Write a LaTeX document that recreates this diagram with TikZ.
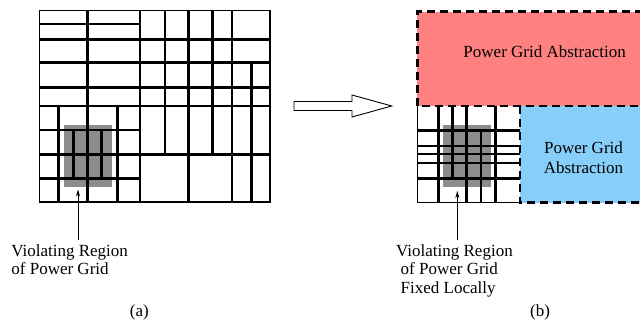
\documentclass[tikz,border=0pt]{standalone}
\usepackage{fontspec}
\setmainfont{Liberation Serif}
\usetikzlibrary{arrows.meta}
\definecolor{abstractred}{RGB}{255,128,128}
\definecolor{abstractblue}{RGB}{135,206,250}
\definecolor{hotspot}{RGB}{140,140,140}
\begin{document}
\begin{tikzpicture}[x=1pt,y=-1pt,
  wire/.style={line width=2.6pt},
  frame/.style={line width=1.1pt},
  abstr/.style={line width=2.8pt, dash pattern=on 8pt off 5pt},
  lbl/.style={font=\fontsize{17}{18.5}\selectfont, inner sep=0pt, align=left, anchor=north west},
  captext/.style={font=\fontsize{17}{18.5}\selectfont, inner sep=0pt, anchor=base},
  pointer/.style={line width=0.8pt, -{Stealth[length=7pt,width=4pt]}}]
\clip (0,0) rectangle (640,326);

% ---------- (a) original power grid ----------
\fill[hotspot] (64,125) rectangle (111.7,187.3);
% straps spanning the whole die
\foreach \y in {39.3,62.7,87.3,106,154.3}
  \draw[wire] (39.3,\y) -- (270,\y);
% straps on the left half only
\foreach \y in {24,130,178.3}
  \draw[wire] (39.3,\y) -- (140,\y);
% vertical straps: x / from / to
\foreach \x/\a/\b in {87.7/10.7/202, 140/10.7/202, 165/10.7/154.3,
                      188.3/10.7/202, 212.7/10.7/154.3, 232/10.7/202,
                      251.7/62.7/202, 58.3/106/202, 117.3/106/202,
                      73.3/130/178.3, 101.7/130/178.3}
  \draw[wire] (\x,\a) -- (\x,\b);
\draw[frame] (39.3,10.7) rectangle (270,202);

% ---------- transformation arrow ----------
\draw[line width=0.9pt] (294,101.5) -- (352,101.5) -- (352,95) -- (391.7,106)
  -- (352,117) -- (352,110.5) -- (294,110.5) -- cycle;

% ---------- (b) grid with abstracted regions ----------
\fill[abstractred] (417.3,11.7) rectangle (643,106);
\fill[abstractblue] (520,106) rectangle (643,202.7);
\fill[hotspot] (442.7,125) rectangle (491,187.3);
\foreach \y in {130.5,146.2,154.2,163,178.3}
  \draw[wire] (417.3,\y) -- (520,\y);
\foreach \x/\a/\b in {438.3/106/202.7, 452.7/106/178.3, 466.7/106/202.7,
                      481/130.5/202.7, 495.7/106/202.7}
  \draw[wire] (\x,\a) -- (\x,\b);
\draw[frame] (417.3,106) -- (417.3,202.7) -- (520,202.7);
\draw[abstr] (643,11.7) -- (417.3,11.7) -- (417.3,106) -- (643,106);
\draw[abstr] (520,106) -- (520,202.7) -- (643,202.7);

\node[captext] (redtxt) at (544.7,57.3) {Power Grid Abstraction};
\node[font=\fontsize{17}{20}\selectfont, inner sep=0pt, align=center, anchor=north]
  (bluetxt) at (583.5,141.7) {Power Grid\\Abstraction};

% ---------- annotations ----------
\node[lbl] (leftlbl) at (11.2,244.5) {Violating Region\\of Power Grid};
\coordinate (leftfoot) at (78,240);
\coordinate (lefttip) at (78,189.5);
\draw[pointer] (leftfoot) -- (lefttip);

\node[lbl] (rightlbl) at (396,244.5)
  {Violating Region\\\hspace*{4.5pt}of Power Grid\\\hspace*{4.5pt}Fixed Locally};
\coordinate (rightfoot) at (457.3,240);
\coordinate (righttip) at (457.3,191);
\draw[pointer] (rightfoot) -- (righttip);

\node[captext] (capa) at (139.3,316.7) {(a)};
\node[captext] (capb) at (540,316.7) {(b)};
\end{tikzpicture}
\end{document}
